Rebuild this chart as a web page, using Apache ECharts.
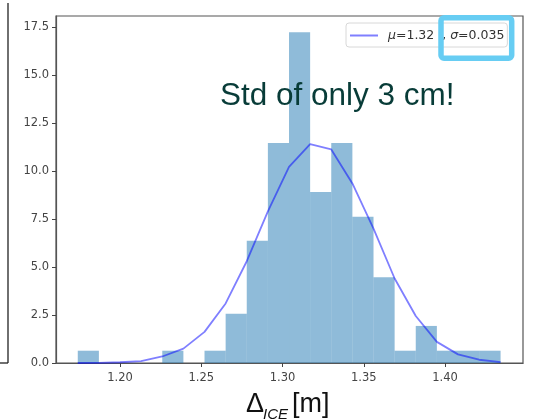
<!DOCTYPE html>
<html>
<head>
<meta charset="utf-8">
<script src="https://cdn.jsdelivr.net/npm/echarts@6/dist/echarts.min.js"></script>
<style>html,body{margin:0;padding:0;background:#fff;}#c{width:538px;height:419px;}</style>
</head>
<body>
<div id="c"></div>
<script>
// Histogram bin edges (m)
var binEdges = [1.1740, 1.1870, 1.2000, 1.2130, 1.2260, 1.2390, 1.2520, 1.2650, 1.2780, 1.2910,
                1.3040, 1.3170, 1.3300, 1.3430, 1.3560, 1.3690, 1.3820, 1.3950, 1.4080, 1.4210, 1.4342];
// Histogram densities
var binDensity = [0.64, 0, 0, 0, 0.64, 0, 0.64, 2.56, 6.37, 11.46,
                  17.23, 8.91, 11.46, 7.62, 4.47, 0.64, 1.93, 0.64, 0.64, 0.64];
// Fitted normal curve, evaluated at the bin edges
var fitValues = [0.00, 0.01, 0.04, 0.10, 0.34, 0.75, 1.62, 3.10, 5.30, 7.90,
                 10.21, 11.40, 11.12, 9.35, 7.00, 4.40, 2.45, 1.10, 0.45, 0.17, 0.05];
var xTicks = [1.20, 1.25, 1.30, 1.35, 1.40];
var yTicks = [0, 2.5, 5.0, 7.5, 10.0, 12.5, 15.0, 17.5];
var legendLabel = 'μ=1.32  , σ=0.035';
var annotation = 'Std of only 3 cm!';

var barData = [];
for (var i = 0; i < binDensity.length; i++) {
  barData.push([binEdges[i], binEdges[i + 1], binDensity[i]]);
}
var lineData = [];
for (var j = 0; j < binEdges.length; j++) {
  lineData.push([binEdges[j], fitValues[j]]);
}

var chart = echarts.init(document.getElementById('c'), null, {renderer: 'canvas'});
var tickFont = {fontFamily: 'DejaVu Sans', fontSize: 11.5, color: '#444'};
chart.setOption({
  animation: false,
  backgroundColor: '#fff',
  grid: {left: 56, right: 15, top: 16, bottom: 56, show: true, borderColor: '#555', borderWidth: 1.2, backgroundColor: 'transparent'},
  xAxis: {
    type: 'value', min: 1.1606, max: 1.448,
    axisLine: {show: true, onZero: false, lineStyle: {color: '#555', width: 1.2}},
    axisTick: {show: true, length: 4, customValues: xTicks, lineStyle: {color: '#444'}},
    axisLabel: Object.assign({customValues: xTicks, margin: 9, formatter: function (v) { return v.toFixed(2); }}, tickFont),
    splitLine: {show: false}
  },
  yAxis: {
    type: 'value', min: 0, max: 18.07,
    axisLine: {show: true, lineStyle: {color: '#555', width: 1.2}},
    axisTick: {show: true, length: 4, customValues: yTicks, lineStyle: {color: '#444'}},
    axisLabel: Object.assign({customValues: yTicks, margin: 7, formatter: function (v) { return v.toFixed(1); }}, tickFont),
    splitLine: {show: false}
  },
  legend: {
    show: true, left: 346, top: 23, orient: 'horizontal',
    backgroundColor: '#fff', borderColor: '#d8d8d8', borderWidth: 1, borderRadius: 3,
    padding: [6, 3, 5, 4], itemWidth: 28, itemHeight: 2, icon: 'rect',
    formatter: function () { return '{i|μ}{n|=1.32  , }{i|σ}{n|=0.035}'; },
    textStyle: {fontFamily: 'DejaVu Sans', fontSize: 12.5, color: '#333', padding: [0, 0, 0, 5],
      rich: {
        i: {fontFamily: 'DejaVu Sans', fontSize: 12.5, fontStyle: 'italic', color: '#333'},
        n: {fontFamily: 'DejaVu Sans', fontSize: 12.5, color: '#333'}
      }},
    data: [legendLabel]
  },
  series: [
    {
      type: 'custom', name: 'hist', z: 2,
      renderItem: function (params, api) {
        var p0 = api.coord([api.value(0), api.value(2)]);
        var p1 = api.coord([api.value(1), 0]);
        return {type: 'rect', shape: {x: p0[0], y: p0[1], width: p1[0] - p0[0], height: p1[1] - p0[1]},
                style: {fill: 'rgba(31,119,180,0.5)'}};
      },
      encode: {x: [0, 1], y: 2},
      data: barData
    },
    {
      type: 'line', name: legendLabel, z: 3, symbol: 'none', smooth: false,
      itemStyle: {color: 'rgba(0,0,255,0.5)'},
      lineStyle: {color: 'rgba(0,0,255,0.5)', width: 1.8},
      data: lineData
    }
  ],
  graphic: [
    {type: 'line', shape: {x1: 8, y1: 3, x2: 8, y2: 363}, style: {stroke: '#222', lineWidth: 1.3}},
    {type: 'line', shape: {x1: 0, y1: 363, x2: 8, y2: 363}, style: {stroke: '#222', lineWidth: 1.3}},
    {type: 'text', left: 220, top: 80, z: 10,
     style: {text: annotation, fontFamily: 'Liberation Sans', fontSize: 31.5, fill: '#083c38'}},
    {type: 'text', x: 246, y: 405, z: 10,
     style: {text: 'Δ', fontFamily: 'Liberation Sans', fontSize: 27, fill: '#111', verticalAlign: 'middle'}},
    {type: 'text', x: 263, y: 415, z: 10,
     style: {text: 'ICE', fontFamily: 'Liberation Sans', fontStyle: 'italic', fontSize: 15, fill: '#111', verticalAlign: 'middle'}},
    {type: 'text', x: 292, y: 405, z: 10,
     style: {text: '[m]', fontFamily: 'Liberation Sans', fontSize: 27, fill: '#111', verticalAlign: 'middle'}},
    {type: 'rect', z: 20, shape: {x: 441, y: 17.8, width: 70.7, height: 40.4, r: 3},
     style: {fill: 'none', stroke: '#67cdf3', lineWidth: 5.5}}
  ]
});
</script>
</body>
</html>
